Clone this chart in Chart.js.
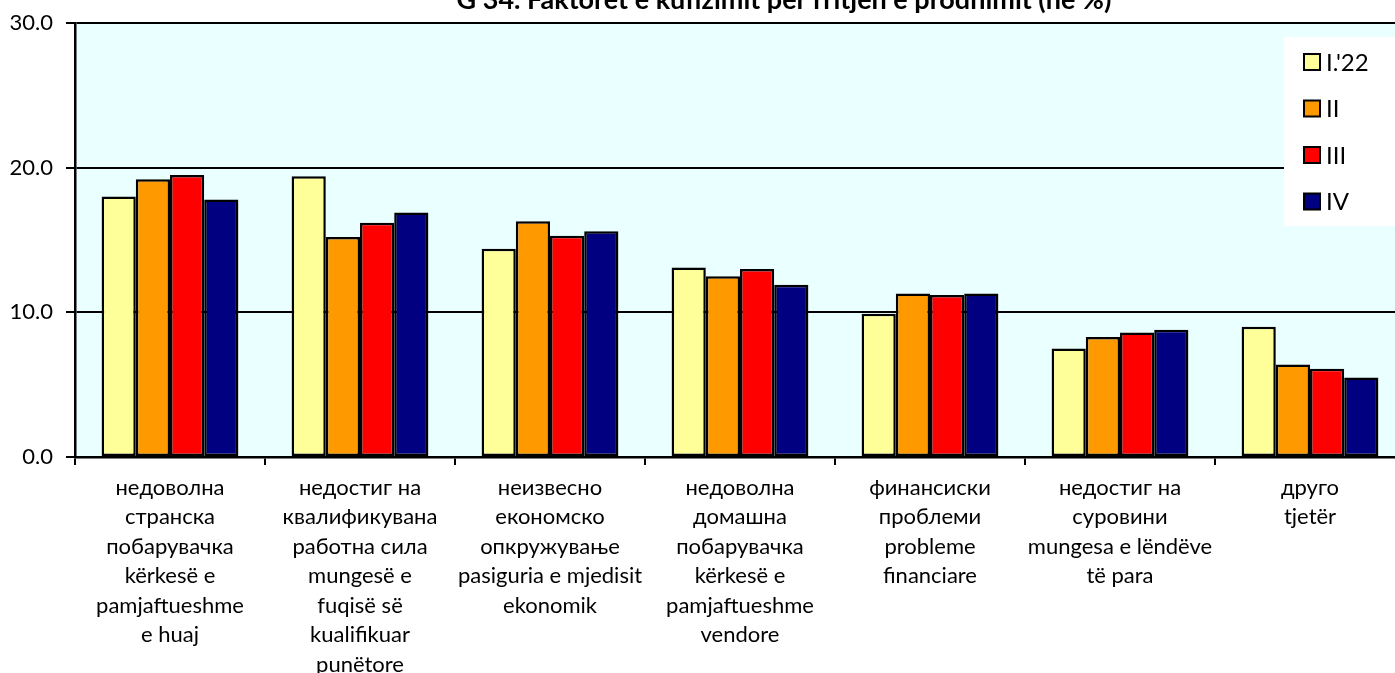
<!DOCTYPE html>
<html>
<head>
<meta charset="utf-8">
<script src="https://cdn.jsdelivr.net/npm/chart.js@4/dist/chart.umd.min.js"></script>
<style>
  html, body { margin: 0; padding: 0; background: #ffffff; overflow: hidden; width: 1395px; height: 673px; }
  #wrap { position: absolute; left: 0; top: -20px; width: 1410px; height: 700px; }
  canvas { display: block; }
</style>
</head>
<body>
<div id="wrap"><canvas id="c" width="1410" height="700"></canvas></div>
<script>
const titleText = "G 34. Faktorët e kufizimit për rritjen e prodhimit (në %)";
const categories = [
  ["недоволна", "странска", "побарувачка", "kërkesë e", "pamjaftueshme", "e huaj"],
  ["недостиг на", "квалификувана", "работна сила", "mungesë e", "fuqisë së", "kualifikuar", "punëtore"],
  ["неизвесно", "економско", "опкружување", "pasiguria e mjedisit", "ekonomik"],
  ["недоволна", "домашна", "побарувачка", "kërkesë e", "pamjaftueshme", "vendore"],
  ["финансиски", "проблеми", "probleme", "financiare"],
  ["недостиг на", "суровини", "mungesa e lëndëve", "të para"],
  ["друго", "tjetër"]
];
const seriesLabels = ["I.'22", "II", "III", "IV"];
const seriesQ1 = [18.0, 19.4, 14.4, 13.1, 9.9, 7.5, 9.0];
const seriesQ2 = [19.2, 15.2, 16.3, 12.5, 11.3, 8.3, 6.4];
const seriesQ3 = [19.5, 16.2, 15.3, 13.0, 11.2, 8.6, 6.1];
const seriesQ4 = [17.8, 16.9, 15.6, 11.9, 11.3, 8.8, 5.5];
const yMin = 0, yMax = 30, yStep = 10;

const colors = ["#FFFF99", "#FF9900", "#FF0000", "#000080"];
const FONT = "Lato, 'Open Sans', sans-serif";

const plotBg = {
  id: 'plotBg',
  beforeDraw(chart) {
    const {ctx, chartArea: a} = chart;
    ctx.save();
    ctx.fillStyle = '#EAFFFF';
    ctx.fillRect(a.left, a.top, a.right - a.left, a.bottom - a.top);
    ctx.restore();
  }
};

const topTitle = {
  id: 'topTitle',
  afterDraw(chart) {
    const ctx = chart.ctx;
    ctx.save();
    ctx.font = "bold 27px " + FONT;
    ctx.fillStyle = '#000';
    ctx.textAlign = 'center';
    ctx.textBaseline = 'alphabetic';
    ctx.fillText(titleText, 784, 29);
    ctx.restore();
  }
};

const boxLegend = {
  id: 'boxLegend',
  afterDraw(chart) {
    const ctx = chart.ctx;
    const bx = 1284, by = 57, bw = 200, bh = 189;
    ctx.save();
    ctx.fillStyle = '#ffffff';
    ctx.fillRect(bx, by, bw, bh);
    ctx.font = "24px " + FONT;
    ctx.textBaseline = 'middle';
    ctx.textAlign = 'left';
    chart.data.datasets.forEach((ds, i) => {
      const cy = 82 + i * 46.5;
      ctx.fillStyle = ds.backgroundColor;
      ctx.fillRect(1304, cy - 8, 16, 16);
      ctx.strokeStyle = '#000';
      ctx.lineWidth = 2;
      ctx.strokeRect(1304, cy - 8, 16, 16);
      ctx.fillStyle = '#000';
      ctx.fillText(ds.label, 1326, cy + 1);
    });
    ctx.restore();
  }
};

const seriesData = [seriesQ1, seriesQ2, seriesQ3, seriesQ4];

new Chart(document.getElementById('c'), {
  type: 'bar',
  data: {
    labels: categories,
    datasets: seriesLabels.map((lab, i) => ({
      label: lab,
      data: seriesData[i],
      backgroundColor: colors[i],
      borderColor: '#000000',
      borderWidth: 2.5,
      borderSkipped: false,
      categoryPercentage: 0.72,
      barPercentage: 1.0
    }))
  },
  options: {
    responsive: false,
    animation: false,
    devicePixelRatio: 1,
    layout: { padding: { left: 0, right: 5, top: 43, bottom: 0 } },
    plugins: {
      legend: { display: false },
      tooltip: { enabled: false },
      title: { display: false }
    },
    scales: {
      x: {
        grid: { display: true, drawOnChartArea: false, offset: true, color: '#000', lineWidth: 2, tickLength: 8, tickColor: '#000' },
        border: { color: '#000', width: 2.5 },
        ticks: {
          color: '#000',
          font: { family: FONT, size: 22, lineHeight: 1.34 },
          padding: 8,
          maxRotation: 0,
          autoSkip: false
        },
        afterFit(scale) { scale.height = 223; }
      },
      y: {
        min: yMin, max: yMax,
        grid: { color: '#000', lineWidth: 2, tickLength: 9, tickColor: '#000' },
        border: { color: '#000', width: 2.5 },
        ticks: {
          stepSize: yStep,
          color: '#000',
          font: { family: FONT, size: 22 },
          padding: 13,
          callback: v => Number(v).toFixed(1)
        },
        afterFit(scale) { scale.width = 75; }
      }
    }
  },
  plugins: [plotBg, topTitle, boxLegend]
});
</script>
</body>
</html>
